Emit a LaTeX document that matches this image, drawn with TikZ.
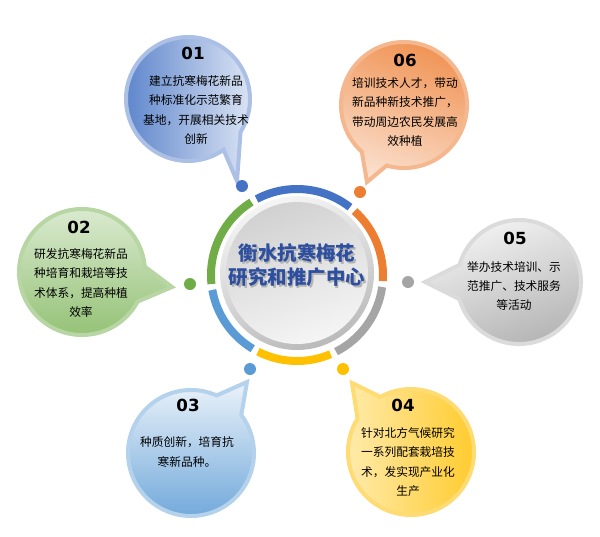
\documentclass[tikz,border=0pt]{standalone}
\usepackage{fontspec}
\usepackage{tikz}
\newfontfamily\cjk{Noto Sans CJK SC}
\newfontfamily\numfont{DejaVu Sans}

\definecolor{ringblue}{HTML}{4472C4}
\definecolor{ringorange}{HTML}{ED7D31}
\definecolor{ringgray}{HTML}{A5A5A5}
\definecolor{ringyellow}{HTML}{FFC000}
\definecolor{ringsky}{HTML}{5B9BD5}
\definecolor{ringgreen}{HTML}{70AD47}
\definecolor{titleblue}{HTML}{2E4F9F}

\begin{document}
\begin{tikzpicture}[x = .75pt, y = .75pt,
    num/.style = {font = \numfont\bfseries\fontsize{12.5}{14}\selectfont},
    txt/.style = {align = center, font = \cjk\fontsize{8.8}{14.6}\selectfont},
    dot/.style = {circle, inner sep = 0pt, minimum size = 9pt},
    seg/.style = {line width = 6pt},
    rim/.style = {line width = 3pt}]
        \useasboundingbox (0,0) rectangle (600,-536);

        % bubbles
        \coordinate (b1) at (188,-99);  \coordinate (t1) at (237,-181);
        \coordinate (b2) at (82,-272);  \coordinate (t2) at (172,-287);
        \coordinate (b3) at (191,-453); \coordinate (t3) at (247,-382);
        \coordinate (b4) at (411,-452); \coordinate (t4) at (352,-383);
        \coordinate (b5) at (519,-282); \coordinate (t5) at (425,-282);
        \coordinate (b6) at (404,-105); \coordinate (t6) at (367,-182);
        \draw[rim, draw = ringblue!45, left color = ringblue!90, right color = ringblue!15]
            (t1) -- ([shift={(-32:62)}]b1) arc[start angle = -32, end angle = 305, radius = 62] -- cycle;
        \draw[rim, draw = ringgreen!50, top color = ringgreen!25, bottom color = ringgreen!75]
            (t2) -- ([shift={(5:63)}]b2) arc[start angle = 5, end angle = 332, radius = 63] -- cycle;
        \draw[rim, draw = ringsky!45, top color = ringsky!12, bottom color = ringsky!90]
            (t3) -- ([shift={(66:63)}]b3) arc[start angle = 66, end angle = 397, radius = 63] -- cycle;
        \draw[rim, draw = ringyellow!55, left color = ringyellow!30, right color = ringyellow!85]
            (t4) -- ([shift={(148:63)}]b4) arc[start angle = 148, end angle = 479, radius = 63] -- cycle;
        \draw[rim, draw = ringgray!40, top color = ringgray!10, bottom color = ringgray!85, shading angle = 20]
            (t5) -- ([shift={(196:62)}]b5) arc[start angle = 196, end angle = 524, radius = 62] -- cycle;
        \draw[rim, draw = ringorange!55, top color = ringorange!85, bottom color = ringorange!25, shading angle = -20]
            (t6) -- ([shift={(-106:63)}]b6) arc[start angle = -106, end angle = 228, radius = 63] -- cycle;

        % centre
        \coordinate (ring) at (297,-275);
        \draw[seg, ringblue] (ring) ++(52:86) arc[start angle = 52, end angle = 118, radius = 86];
        \draw[seg, ringorange] (ring) ++(-4:86) arc[start angle = -4, end angle = 48, radius = 86];
        \draw[seg, ringgray] (ring) ++(-63:86) arc[start angle = -63, end angle = -8, radius = 86];
        \draw[seg, ringyellow] (ring) ++(-117:86) arc[start angle = -117, end angle = -67, radius = 86];
        \draw[seg, ringsky] (ring) ++(-170:86) arc[start angle = -170, end angle = -121, radius = 86];
        \draw[seg, ringgreen] (ring) ++(122:86) arc[start angle = 122, end angle = 186, radius = 86];
        \shade[top color = black!4, bottom color = black!27, shading angle = 20] (297,-273) circle[radius = 77];
        \shade[top color = black!18, bottom color = black!4, shading angle = 20] (297,-273) circle[radius = 71];
        \node[align = center, font = \cjk\bfseries\fontsize{14.6}{18}\selectfont, text = black!30] at (298.5,-267) {衡水抗寒梅花\\研究和推广中心};
        \node[align = center, font = \cjk\bfseries\fontsize{14.6}{18}\selectfont, text = titleblue] (title) at (297,-265) {衡水抗寒梅花\\研究和推广中心};

        \node[dot, fill = ringblue] (d1) at (242,-186) {};
        \node[dot, fill = ringgreen] (d2) at (190,-284) {};
        \node[dot, fill = ringsky] (d3) at (250,-369) {};
        \node[dot, fill = ringyellow] (d4) at (343,-369) {};
        \node[dot, fill = ringgray] (d5) at (408,-282) {};
        \node[dot, fill = ringorange] (d6) at (360,-192) {};

        % texts
        \node[num] (n1) at (193,-53) {01};
        \node[txt] (x1) at (196,-110) {建立抗寒梅花新品\\种标准化示范繁育\\基地，开展相关技术\\创新};
        \node[num] (n2) at (79,-227) {02};
        \node[txt] (x2) at (81,-283) {研发抗寒梅花新品\\种培育和栽培等技\\术体系，提高种植\\效率};
        \node[num] (n3) at (188,-405) {03};
        \node[txt] (x3) at (187,-452) {种质创新，培育抗\\寒新品种。};
        \node[num] (n4) at (403,-405) {04};
        \node[txt] (x4) at (408,-462) {针对北方气候研究\\一系列配套栽培技\\术，发实现产业化\\生产};
        \node[num] (n5) at (515,-238) {05};
        \node[txt] (x5) at (514,-286) {举办技术培训、示\\范推广、技术服务\\等活动};
        \node[num] (n6) at (405,-60) {06};
        \node[txt] (x6) at (405,-112) {培训技术人才，带动\\新品种新技术推广，\\带动周边农民发展高\\效种植};
      \end{tikzpicture}
\end{document}
